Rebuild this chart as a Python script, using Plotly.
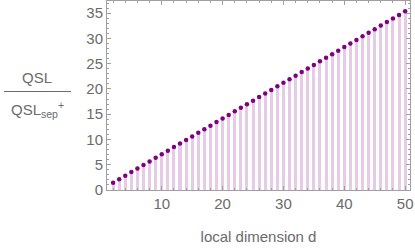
import plotly.graph_objects as go

d_values = list(range(2, 51))
ratio_values = [1.41, 2.12, 2.83, 3.54, 4.24, 4.95, 5.66, 6.36, 7.07, 7.78,
                8.49, 9.19, 9.90, 10.61, 11.31, 12.02, 12.73, 13.44, 14.14, 14.85,
                15.56, 16.26, 16.97, 17.68, 18.38, 19.09, 19.80, 20.51, 21.21, 21.92,
                22.63, 23.33, 24.04, 24.75, 25.46, 26.16, 26.87, 27.58, 28.28, 28.99,
                29.70, 30.41, 31.11, 31.82, 32.53, 33.23, 33.94, 34.65, 35.36]
x_ticks = [10, 20, 30, 40, 50]
y_ticks = [0, 5, 10, 15, 20, 25, 30, 35]

FONT = "Liberation Sans"
GRAY = "#6b6b6b"
FRAME = "#a0a0a0"
L, R, T, B = 107, 5, 1, 58
PW = 415 - L - R
PH = 248 - T - B

def px(x):
    return (x - L) / PW

def py(y):
    return (248 - B - y) / PH

fig = go.Figure()
fig.add_trace(go.Bar(x=d_values, y=ratio_values, width=0.5,
                     marker=dict(color="#e6cbe6", line=dict(width=0)),
                     hoverinfo="skip"))
fig.add_trace(go.Scatter(x=d_values, y=ratio_values, mode="markers",
                         marker=dict(color="#800080", size=4.5, line=dict(width=0))))

axis_common = dict(showgrid=False, zeroline=False, showline=True, linecolor=FRAME,
                   linewidth=1, mirror="ticks", ticks="inside", ticklen=4,
                   tickcolor=FRAME, automargin=False,
                   tickfont=dict(family=FONT, size=15, color=GRAY))

fig.update_layout(
    width=415, height=248,
    margin=dict(l=L, r=R, t=T, b=B, autoexpand=False),
    paper_bgcolor="white", plot_bgcolor="white",
    showlegend=False, bargap=0,
    xaxis=dict(range=[1.0, 50.8], tickvals=x_ticks,
               minor=dict(dtick=2, tick0=0, ticklen=2, ticks="inside", tickcolor=FRAME),
               title=dict(text="local dimension d", font=dict(family=FONT, size=15, color=GRAY),
                          standoff=20),
               **axis_common),
    yaxis=dict(range=[0, 37.4], tickvals=y_ticks,
               minor=dict(dtick=1, tick0=0, ticklen=2, ticks="inside", tickcolor=FRAME),
               **axis_common),
    font=dict(family=FONT, color=GRAY),
)

fig.add_annotation(text="QSL", xref="paper", yref="paper",
                   x=px(37), y=py(77), showarrow=False,
                   xanchor="center", yanchor="middle",
                   font=dict(family=FONT, size=15, color=GRAY))
fig.add_annotation(text="QSL<sub>sep</sub><sup>+</sup>", xref="paper", yref="paper",
                   x=px(37), y=py(109), showarrow=False,
                   xanchor="center", yanchor="middle",
                   font=dict(family=FONT, size=15, color=GRAY))
fig.add_shape(type="line", xref="paper", yref="paper",
              x0=px(4), x1=px(71), y0=py(91.5), y1=py(91.5),
              line=dict(color=GRAY, width=1))

fig.write_html("out.html", config={"displayModeBar": False},
               post_script="document.body.style.margin='0';document.body.style.overflow='hidden';")
